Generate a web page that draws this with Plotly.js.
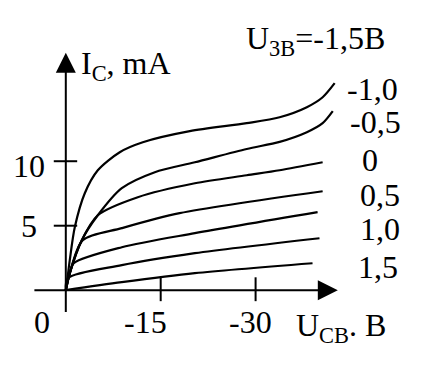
<!DOCTYPE html>
<html><head><meta charset="utf-8">
<script src="https://cdn.plot.ly/plotly-3.0.1.min.js"></script>
<style>html,body{margin:0;padding:0;background:#fff}#chart{width:421px;height:378px}</style>
</head><body><div id="chart"></div>
<script>
// Output characteristics: I_C (mA) vs U_CB (V), one curve per U_EB value
const seriesNames = ['-1,5', '-1,0', '-0,5', '0', '0,5', '1,0', '1,5'];
const xA = [0, -0.16, -0.63, -1.42, -3.0, -5.06, -8.53, -12.17, -19.6, -28.6, -33.8, -38.1, -40.6, -42.5];
const yA = [0, 0.54, 2.33, 4.88, 7.52, 9.30, 10.70, 11.47, 12.33, 12.95, 13.41, 14.19, 14.96, 16.05];
const xB = [0, -0.63, -2.53, -5.06, -8.85, -14.07, -20.4, -28.6, -33.8, -38.1, -40.6, -42.2];
const yB = [0, 1.32, 3.88, 5.81, 7.91, 9.15, 9.92, 10.95, 11.5, 12.25, 12.95, 13.88];
const xC = [0, -0.63, -2.53, -5.06, -11.38, -20.4, -28.6, -33.8, -40.6];
const yC = [0, 1.32, 3.88, 5.81, 7.21, 8.29, 8.91, 9.30, 9.92];
const xD = [0, -0.63, -2.69, -8.85, -18.0, -40.6];
const yD = [0, 1.32, 3.88, 4.81, 5.97, 7.67];
const xE = [0, -0.63, -1.26, -8.85, -20.4, -39.8];
const yE = [0, 1.32, 2.09, 3.33, 4.42, 6.05];
const xF = [0, -0.32, -8.85, -20.4, -40.1];
const yF = [0, 0.93, 1.94, 2.87, 4.03];
const xG = [0, -8.85, -20.4, -39.0];
const yG = [0, 0.62, 1.32, 2.09];

const xTickVals = [0, -15, -30];
const xTickText = ['0', '-15', '-30'];
const yTickVals = [5, 10];
const yTickText = ['5', '10'];
const curveLabelText = ['-1,0', '-0,5', '0', '0,5', '1,0', '1,5'];
const curveLabelVal = [15.58, 13.02, 10.08, 7.36, 4.73, 1.78];

const xs = [xA, xB, xC, xD, xE, xF, xG];
const ys = [yA, yB, yC, yD, yE, yF, yG];

// ---- layout geometry ----
const W = 421, H = 378;
const M = {l: 31, r: 80, t: 49, b: 62};
const pw = W - M.l - M.r, ph = H - M.t - M.b;
const pxX = px => (px - M.l) / pw;
const pxY = py => (H - M.b - py) / ph;
const FONT = 'Liberation Serif, Times New Roman, serif';
const FS = 32;

const traces = xs.map((x, i) => ({
  x: x, y: ys[i], name: seriesNames[i], type: 'scatter', mode: 'lines',
  line: {color: '#000', width: 2.2, shape: 'spline', smoothing: 0.8},
  hoverinfo: 'skip', showlegend: false
}));

const shapes = [];
xTickVals.filter(v => v !== 0).forEach(v => shapes.push({
  type: 'line', xref: 'x', yref: 'y', x0: v, x1: v, y0: -0.85, y1: 1.0,
  line: {color: '#000', width: 2}, layer: 'above'
}));
yTickVals.forEach(v => shapes.push({
  type: 'line', xref: 'x', yref: 'y', x0: 1.9, x1: -1.8, y0: v, y1: v,
  line: {color: '#000', width: 2}, layer: 'above'
}));

const ann = [];
// axes with arrow heads
ann.push({xref: 'x', yref: 'y', axref: 'x', ayref: 'y', x: 0, y: 18.4, ax: 0, ay: -1.8,
  text: '', showarrow: true, arrowhead: 2, arrowsize: 2, arrowwidth: 2, arrowcolor: '#000', standoff: 0});
ann.push({xref: 'x', yref: 'y', axref: 'x', ayref: 'y', x: -43.0, y: 0, ax: 5.2, ay: 0,
  text: '', showarrow: true, arrowhead: 2, arrowsize: 2, arrowwidth: 2, arrowcolor: '#000', standoff: 0});
// x tick labels
const xLabShift = [-24, -15, -5];
xTickVals.forEach((v, i) => ann.push({xref: 'x', yref: 'paper', x: v, y: pxY(322),
  xshift: xLabShift[i], text: xTickText[i], showarrow: false, xanchor: 'center', yanchor: 'middle',
  font: {family: FONT, size: FS, color: '#000'}}));
// y tick labels
const yLabShift = [0, -5];
yTickVals.forEach((v, i) => ann.push({xref: 'paper', yref: 'y', x: pxX(29), y: v,
  yshift: yLabShift[i], text: yTickText[i], showarrow: false, xanchor: 'center', yanchor: 'middle',
  font: {family: FONT, size: FS, color: '#000'}}));
// curve labels
const labCx = [372, 375, 370, 380, 380, 378];
curveLabelText.forEach((t, i) => ann.push({xref: 'paper', yref: 'y', x: pxX(labCx[i]), y: curveLabelVal[i],
  text: t, showarrow: false, xanchor: 'center', yanchor: 'middle',
  font: {family: FONT, size: FS, color: '#000'}}));
// titles
ann.push({xref: 'paper', yref: 'paper', x: pxX(79), y: pxY(65), text: 'I<sub>C</sub>, mA',
  showarrow: false, xanchor: 'left', yanchor: 'middle', font: {family: FONT, size: FS, color: '#000'}});
ann.push({xref: 'paper', yref: 'paper', x: pxX(294), y: pxY(327), text: 'U<sub>CB</sub>. B',
  showarrow: false, xanchor: 'left', yanchor: 'middle', font: {family: FONT, size: FS, color: '#000'}});
ann.push({xref: 'paper', yref: 'paper', x: pxX(244), y: pxY(41), text: 'U<sub>3B</sub>=-1,5B',
  showarrow: false, xanchor: 'left', yanchor: 'middle', font: {family: FONT, size: FS, color: '#000'}});

const layout = {
  width: W, height: H, margin: M, paper_bgcolor: '#fff', plot_bgcolor: '#fff',
  showlegend: false,
  xaxis: {range: [5.5, -43.5], visible: false, fixedrange: true},
  yaxis: {range: [-2.0, 18.7], visible: false, fixedrange: true},
  shapes: shapes, annotations: ann
};
Plotly.newPlot('chart', traces, layout, {staticPlot: true, displayModeBar: false});
</script></body></html>
